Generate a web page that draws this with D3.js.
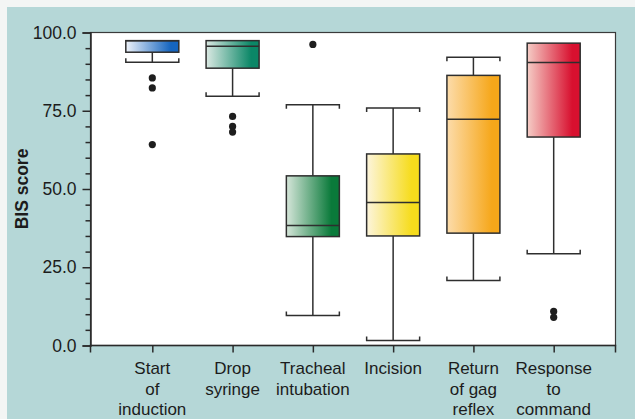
<!DOCTYPE html>
<html><head><meta charset="utf-8">
<script src="https://cdn.jsdelivr.net/npm/d3@7"></script>
<style>
html,body{margin:0;padding:0;background:#f3f5f4;}
svg{display:block;font-family:"Liberation Sans",Arial,Helvetica,sans-serif;}
</style></head>
<body>
<svg id="chart" width="635" height="419"></svg>
<script>
const categories = [["Start","of","induction"],["Drop","syringe"],["Tracheal","intubation"],["Incision"],["Return","of gag","reflex"],["Response","to","command"]];
const whiskerLow  = [90.5, 79.6, 9.6, 1.6, 20.8, 29.3];
const q1          = [93.7, 88.6, 34.8, 35.0, 35.9, 66.6];
const median      = [97.4, 95.6, 38.3, 45.7, 72.3, 90.4];
const q3          = [97.4, 97.4, 54.2, 61.2, 86.3, 96.6];
const whiskerHigh = [97.4, 97.4, 76.9, 75.9, 92.1, 96.6];
const outliers    = [[85.5, 82.3, 64.2],[73.2, 70.0, 68.2],[96.2],[],[],[10.9, 9.0]];
const yTicks = [0, 25, 50, 75, 100];
const colorsLight = ["#eef2f9","#dbe9e3","#d6e6da","#fdf5dc","#fcdcab","#f5cdc6"];
const colorsDark  = ["#1565bf","#0b8767","#0a7a3a","#f6dc1c","#f6a71a","#d8102f"];

(function(){
const svg = d3.select("#chart");
const W = 635, H = 419;
svg.append("rect").attr("x",7).attr("y",7).attr("width",W-7).attr("height",H-7).attr("fill","#b5d7d7");

const pL = 90.5, pR = 615.5, pT = 32.5, pB = 345.5;
svg.append("rect").attr("x",pL).attr("y",pT).attr("width",pR-pL).attr("height",pB-pT)
  .attr("fill","#ffffff").attr("stroke","#3a3a3a").attr("stroke-width",1.2);

const idx = d3.range(categories.length);
const x = d3.scalePoint().domain(idx).range([pL, pR]).padding(0.77);
const y = d3.scaleLinear().domain([0,100]).range([pB, pT]);

const defs = svg.append("defs");
idx.forEach(i=>{
  const g = defs.append("linearGradient").attr("id","g"+i).attr("x1","0%").attr("x2","100%").attr("y1","0%").attr("y2","0%");
  g.append("stop").attr("offset","0%").attr("stop-color",colorsLight[i]);
  g.append("stop").attr("offset","85%").attr("stop-color",colorsDark[i]);
  g.append("stop").attr("offset","100%").attr("stop-color",colorsDark[i]);
});

const yAxis = d3.axisLeft(y).tickValues(yTicks).tickFormat(d3.format(".1f")).tickSize(8).tickPadding(6);
const ya = svg.append("g").attr("transform",`translate(${pL},0)`).call(yAxis);
ya.attr("font-family",null).attr("font-size",null);
ya.select(".domain").attr("stroke","#2a2a2a").attr("stroke-width",1.5);
ya.selectAll(".tick line").attr("stroke","#2a2a2a").attr("stroke-width",1.5);
ya.selectAll("text").attr("font-size",17.5).attr("fill","#1c1c1c");
const yMinor = d3.axisLeft(y).tickValues(d3.range(0,101,5).filter(v=>v%25!==0)).tickSize(5).tickFormat("");
const ym = svg.append("g").attr("transform",`translate(${pL},0)`).call(yMinor);
ym.select(".domain").remove();
ym.selectAll(".tick line").attr("stroke","#2a2a2a").attr("stroke-width",1.5);

const xAxis = d3.axisBottom(x).tickSize(7).tickFormat("");
const xa = svg.append("g").attr("transform",`translate(0,${pB})`).call(xAxis);
xa.select(".domain").attr("stroke","#2a2a2a").attr("stroke-width",1.5).attr("d",`M${pL},7V0H${pR}V7`);
xa.selectAll(".tick line").attr("stroke","#2a2a2a").attr("stroke-width",1.5);

idx.forEach(i=>{
  const t = svg.append("text").attr("x",x(i)).attr("y",374).attr("text-anchor","middle")
    .attr("font-size",17).attr("fill","#1c1c1c");
  categories[i].forEach((line,k)=>{
    t.append("tspan").attr("x",x(i)).attr("dy",k===0?0:20.6).text(line);
  });
});

svg.append("text").attr("transform","translate(28,189) rotate(-90)").attr("text-anchor","middle")
  .attr("font-size",17.5).attr("font-weight","bold").attr("fill","#1c1c1c").text("BIS score");

const bw = 53;
const stroke = "#2e2e2e";
idx.forEach(i=>{
  const cx = x(i);
  const g = svg.append("g");
  if (whiskerHigh[i] > q3[i]) {
    g.append("line").attr("x1",cx).attr("x2",cx).attr("y1",y(q3[i])).attr("y2",y(whiskerHigh[i])).attr("stroke",stroke).attr("stroke-width",1.5);
    g.append("path").attr("d",`M${cx-bw/2},${y(whiskerHigh[i])+4}V${y(whiskerHigh[i])}H${cx+bw/2}V${y(whiskerHigh[i])+4}`)
      .attr("fill","none").attr("stroke",stroke).attr("stroke-width",1.5);
  }
  g.append("line").attr("x1",cx).attr("x2",cx).attr("y1",y(q1[i])).attr("y2",y(whiskerLow[i])).attr("stroke",stroke).attr("stroke-width",1.5);
  g.append("path").attr("d",`M${cx-bw/2},${y(whiskerLow[i])-4}V${y(whiskerLow[i])}H${cx+bw/2}V${y(whiskerLow[i])-4}`)
    .attr("fill","none").attr("stroke",stroke).attr("stroke-width",1.5);
  g.append("rect").attr("x",cx-bw/2).attr("y",y(q3[i])).attr("width",bw).attr("height",y(q1[i])-y(q3[i]))
    .attr("fill",`url(#g${i})`).attr("stroke",stroke).attr("stroke-width",1.5);
  g.append("line").attr("x1",cx-bw/2).attr("x2",cx+bw/2).attr("y1",y(median[i])).attr("y2",y(median[i])).attr("stroke",stroke).attr("stroke-width",1.5);
  outliers[i].forEach(v=>{
    g.append("circle").attr("cx",cx).attr("cy",y(v)).attr("r",3.6).attr("fill","#1e1e1e");
  });
});
})();
</script>
</body></html>
